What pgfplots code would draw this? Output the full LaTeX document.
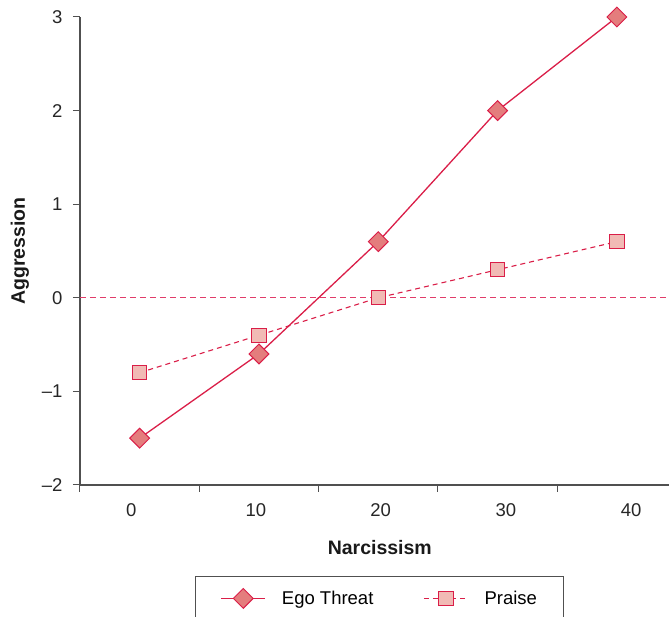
\documentclass[border=0pt]{standalone}
\usepackage{pgfplots}
\pgfplotsset{compat=1.18}
\usepackage{fontspec}
\setmainfont{Liberation Sans}
\usetikzlibrary{calc}
\definecolor{linecol}{RGB}{218,30,72}
\definecolor{diafill}{RGB}{228,125,125}
\definecolor{sqfill}{RGB}{241,186,181}
\definecolor{zeroline}{RGB}{225,60,105}
\definecolor{axcol}{RGB}{80,80,80}
\begin{document}
\begin{tikzpicture}
\begin{axis}[
  name=ax,
  width=589pt, height=468pt, scale only axis,
  xmin=-0.5, xmax=4.437, ymin=-2, ymax=3,
  axis x line*=bottom, axis y line*=left,
  axis line style={axcol, line width=1.3pt},
  tick style={axcol, line width=1pt},
  tick align=outside,
  major tick length=7pt,
  xtick={-0.5,0.5,1.5,2.5,3.5},
  xticklabels={},
  extra x ticks={-0.07,0.975,2.02,3.07,4.12},
  extra x tick labels={0,10,20,30,40},
  extra x tick style={major tick length=0pt, grid=none},
  ytick={-2,-1,0,1,2,3},
  yticklabels={--2,--1,0,1,2,3},
  tick label style={font=\fontsize{18.5}{22}\selectfont, text=black!85},
  xticklabel style={yshift=-15pt},
  yticklabel style={xshift=-7pt},
  xlabel={\textbf{Narcissism}},
  ylabel={\textbf{Aggression}},
  label style={font=\fontsize{19.5}{23}\selectfont, text=black!90},
  xlabel style={at={(axis description cs:0.509,0)}, anchor=center, yshift=-63pt},
  ylabel style={at={(axis description cs:0,0.5)}, anchor=center, yshift=60pt},
  legend columns=2,
  legend style={at={(axis description cs:0.509,0)}, anchor=north, yshift=-91pt,
    draw=axcol, line width=1pt, font=\fontsize{18.5}{22}\selectfont,
    inner xsep=25pt, inner ysep=12pt,
    /tikz/every odd column/.append style={column sep=14pt},
    /tikz/every even column/.append style={column sep=48pt}},
  legend image code/.code={\draw[mark repeat=2, mark phase=2, #1] plot coordinates {(0pt,0pt) (22pt,0pt) (44pt,0pt)};},
]
\draw[draw=zeroline, line width=1.3pt, dash pattern=on 6pt off 4pt] (axis cs:-0.5,0) -- (axis cs:4.437,0);
\addplot[linecol, line width=1.3pt, mark=square*, mark size=7pt,
  mark options={solid, fill=diafill, draw=linecol, rotate=45, line width=1pt}]
  coordinates {(0,-1.5) (1,-0.6) (2,0.6) (3,2.0) (4,3.0)};
\addlegendentry{Ego Threat}
\addplot[linecol, line width=1.1pt, dash pattern=on 5pt off 4pt, mark=square*, mark size=7.2pt,
  mark options={solid, fill=sqfill, draw=linecol, line width=1pt}]
  coordinates {(0,-0.8) (1,-0.4) (2,0.0) (3,0.3) (4,0.6)};
\addlegendentry{Praise}
\end{axis}
\pgfresetboundingbox
\path[use as bounding box] ($(ax.south west)+(-80pt,-132pt)$) rectangle ($(ax.south west)+(589pt,485pt)$);
\end{tikzpicture}
\end{document}
